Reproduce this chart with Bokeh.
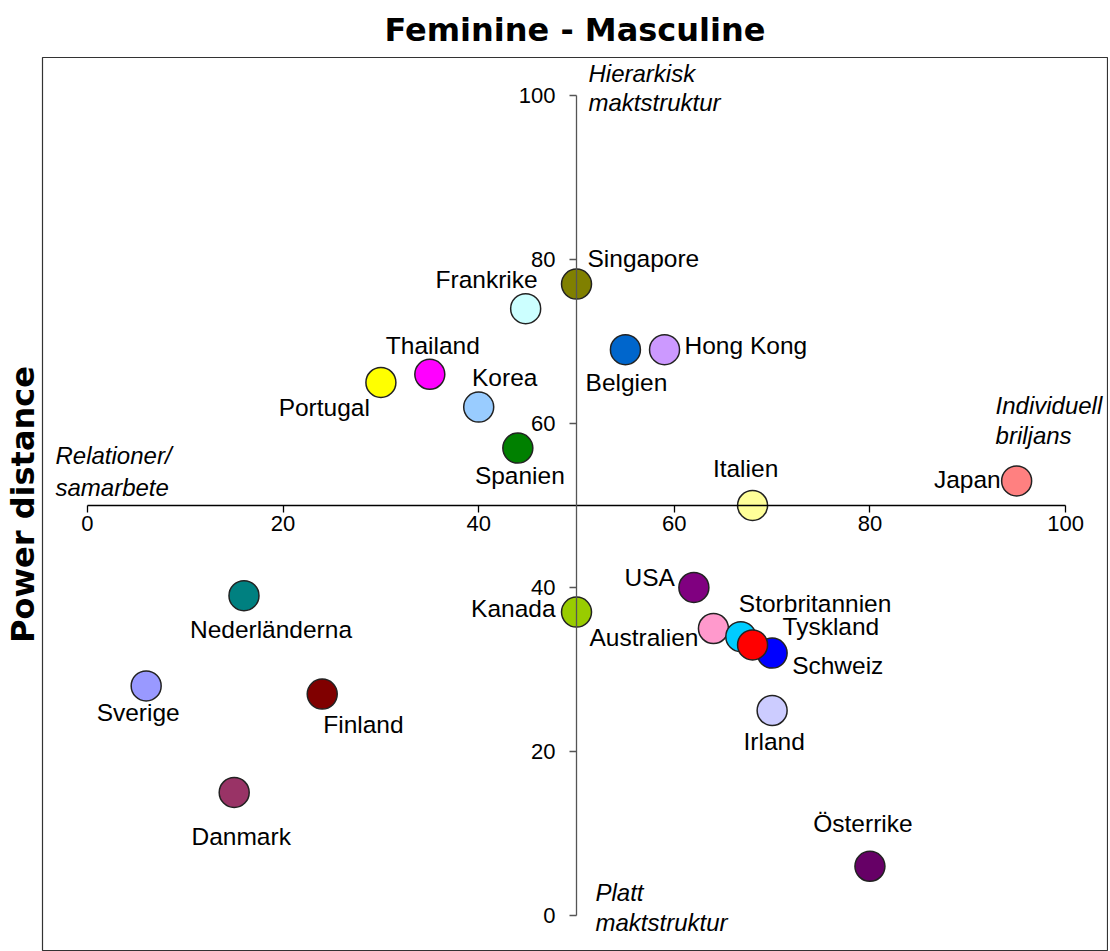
from bokeh.plotting import figure
from bokeh.models import Range1d, LinearAxis, FixedTicker, Title, Label, ColumnDataSource
from bokeh.embed import file_html
from bokeh.resources import INLINE
from bokeh.core.properties import value

# ---- data ----
countries = ["Singapore", "Frankrike", "Thailand", "Portugal", "Korea", "Spanien",
             "Belgien", "Hong Kong", "Italien", "Japan", "USA", "Kanada",
             "Australien", "Schweiz", "Storbritannien", "Tyskland", "Irland",
             "Österrike", "Nederländerna", "Sverige", "Finland", "Danmark"]
masculinity = [50, 44.8, 35, 30, 40, 44, 55, 59, 68, 95, 62, 50,
               64, 70, 66.8, 68, 70, 80, 16, 6, 24, 15]
power_distance = [77, 74, 66, 65, 62, 57, 69, 69, 50, 53, 40, 37,
                  35, 32, 34, 33, 25, 6, 39, 28, 27, 15]
colors = ["#808000", "#CCFFFF", "#FF00FF", "#FFFF00", "#99CCFF", "#008000",
          "#0066CC", "#CC99FF", "#FFFF99", "#FF8080", "#800080", "#99CC00",
          "#FF99CC", "#0000FF", "#00CCFF", "#FF0000", "#CCCCFF",
          "#660066", "#008080", "#9999FF", "#800000", "#993366"]
x_ticks = [0, 20, 40, 60, 80, 100]
y_ticks = [0, 20, 40, 60, 80, 100]

# ---- label placement (style) ----
label_align = ["left", "right", "center", "right", "center", "center",
               "center", "left", "center", "right", "right", "right",
               "right", "left", "left", "left", "center",
               "center", "center", "center", "left", "center"]
label_dx = [11, 12, 3, -11, 26, 2, 1, 20, -7, -16, -19, -21,
            -15, 20, -2, 30, 2, -7, 27, -8, 1, 7]
label_dy = [-26, -29, -29, 25, -30, 27, 33, -4, -37, -1, -10, -4,
            9, 12, -33, -18, 31, -43, 34, 27, 30, 44]

src = ColumnDataSource(dict(x=masculinity, y=power_distance, name=countries,
                            color=colors, align=label_align,
                            dx=label_dx, dy=label_dy))

W, H = 1108, 951
p = figure(width=W, height=H, output_backend="svg", toolbar_location=None,
           x_range=Range1d(-4.60, 104.29), y_range=Range1d(-4.39, 104.63),
           x_axis_location=None, y_axis_location=None,
           min_border_left=42, min_border_top=57, min_border_right=1,
           min_border_bottom=0)
p.grid.visible = False
p.outline_line_color = "#333333"
p.outline_line_width = 1.2
p.background_fill_color = "white"
p.border_fill_color = "white"

p.title.text = "Feminine - Masculine"
p.title.align = "center"
p.title.text_font = "DejaVu Sans"
p.title.text_font_size = "32px"
p.title.text_font_style = "bold"
p.title.text_color = "black"
p.title.standoff = 17

ytitle = Title(text="Power distance", align="center", text_font="DejaVu Sans",
               text_font_size="32px", text_font_style="bold", text_color="black",
               standoff=2)
p.add_layout(ytitle, "left")

xaxis = LinearAxis(fixed_location=50, bounds=(0, 100),
                   ticker=FixedTicker(ticks=x_ticks))
yaxis = LinearAxis(fixed_location=50, bounds=(0, 100),
                   ticker=FixedTicker(ticks=y_ticks))
for ax in (xaxis, yaxis):
    ax.major_tick_in = 0
    ax.major_tick_out = 7
    ax.minor_tick_line_color = None
    ax.major_label_text_font = "Liberation Sans"
    ax.major_label_text_font_size = "22px"
    ax.major_label_text_color = "black"
    ax.axis_line_width = 1.3
    ax.major_tick_line_width = 1.3
xaxis.axis_line_color = "black"
xaxis.major_tick_line_color = "black"
xaxis.major_label_standoff = 4
yaxis.axis_line_color = "#555555"
yaxis.major_tick_line_color = "#555555"
yaxis.major_label_standoff = 14
p.add_layout(xaxis, "below")
p.add_layout(yaxis, "left")

p.scatter("x", "y", source=src, size=30, fill_color="color",
          line_color="#222222", line_width=1.5)
p.text("x", "y", text="name", source=src, x_offset="dx", y_offset="dy",
       text_align="align", text_baseline="middle",
       text_font=value("Liberation Sans"), text_font_size="24.5px",
       text_color="black")

# italic quadrant annotations: (text, anchor x, anchor y, dx, dy)
notes = [("Hierarkisk", 50, 100, 12, 22), ("maktstruktur", 50, 100, 12, -7),
         ("Relationer/", 0, 50, -32, 50), ("samarbete", 0, 50, -32, 18),
         ("Individuell", 100, 50, -70, 100), ("briljans", 100, 50, -70, 70),
         ("Platt", 50, 0, 19, 23), ("maktstruktur", 50, 0, 19, -7)]
for t, ax_, ay_, dx, dy in notes:
    p.add_layout(Label(x=ax_, y=ay_, x_offset=dx, y_offset=dy, text=t,
                       text_font="Liberation Sans", text_font_size="24px",
                       text_font_style="italic", text_baseline="middle",
                       text_color="black"))

open("out.html", "w").write(file_html(p, INLINE))
